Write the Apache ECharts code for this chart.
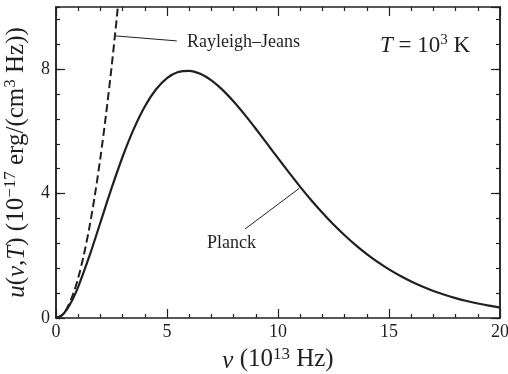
<!DOCTYPE html>
<html>
<head>
<meta charset="utf-8">
<script src="https://cdn.jsdelivr.net/npm/echarts@6/dist/echarts.min.js"></script>
<style>
  html, body { margin: 0; padding: 0; background: #fff; }
  #chart { width: 508px; height: 374px; }
</style>
</head>
<body>
<div id="chart"></div>
<script>
// frequency in 10^13 Hz, energy density in 10^-17 erg/(cm^3 Hz)
const planckNu = [0, 0.25, 0.5, 0.75, 1, 1.5, 2, 2.5, 3, 3.5, 4, 4.5, 5, 5.5, 6, 6.5, 7, 7.5, 8, 8.5, 9, 9.5,
  10, 10.5, 11, 11.5, 12, 12.5, 13, 13.5, 14, 14.5, 15, 15.5, 16, 16.5, 17, 17.5, 18, 18.5, 19, 19.5, 20];
const planckU = [0, 0.076, 0.285, 0.602, 1.004, 1.979, 3.070, 4.165, 5.185, 6.074, 6.801, 7.348, 7.716, 7.910,
  7.949, 7.851, 7.639, 7.336, 6.962, 6.539, 6.084, 5.613, 5.139, 4.672, 4.218, 3.788, 3.384, 3.007, 2.660,
  2.342, 2.054, 1.795, 1.563, 1.357, 1.174, 1.013, 0.871, 0.748, 0.640, 0.547, 0.466, 0.396, 0.336];

const rjNu = [0, 0.25, 0.5, 0.75, 1, 1.25, 1.5, 1.75, 2, 2.25, 2.5, 2.75, 3];
const rjU = [0, 0.081, 0.322, 0.725, 1.288, 2.013, 2.898, 3.945, 5.152, 6.521, 8.05, 9.741, 11.59];

const xTicks = [0, 5, 10, 15, 20];
const yTicks = [0, 4, 8];

// leader lines for the labels, in data units
const rjLeader = [[2.69, 9.07], [5.44, 8.91]];
const planckLeader = [[8.51, 2.86], [10.96, 4.17]];

const ink = '#231f20';
const serif = '"Liberation Serif", "DejaVu Serif", serif';

const chart = echarts.init(document.getElementById('chart'));

const nameRich = {
  i: { fontStyle: 'italic', fontFamily: serif, fontSize: 25, color: ink, lineHeight: 28, verticalAlign: 'bottom' },
  sup: { fontFamily: serif, fontSize: 17, color: ink, lineHeight: 28, verticalAlign: 'top' }
};

const baseX = {
  type: 'value', min: xTicks[0], max: xTicks[xTicks.length - 1], interval: 5,
  splitLine: { show: false },
  axisLine: { show: true, onZero: false, lineStyle: { color: ink, width: 1.5 } },
  axisTick: { inside: true, length: 9, lineStyle: { color: ink, width: 1.2 } },
  minorTick: { show: true, splitNumber: 5, length: 4, lineStyle: { color: ink, width: 1.2 } }
};

function yAxisDef(pos, interval, len, labels) {
  return {
    type: 'value', position: pos, min: 0, max: 10, interval: interval,
    splitLine: { show: false },
    axisLine: { show: true, onZero: false, lineStyle: { color: ink, width: 1.5 } },
    axisTick: { inside: true, length: len, lineStyle: { color: ink, width: 1.2 } },
    axisLabel: labels ? {
      show: true, showMaxLabel: false, color: ink, fontFamily: serif, fontSize: 18, margin: 6,
      formatter: v => (yTicks.indexOf(v) >= 0 ? String(v) : '')
    } : { show: false }
  };
}

const yLeft = yAxisDef('left', 4, 9, true);
yLeft.name = '{i|u}({i|ν},{i|T}) (10{sup|−17} erg/(cm{sup|3} Hz))';
yLeft.nameLocation = 'middle';
yLeft.nameRotate = 90;
yLeft.nameGap = 20;
yLeft.nameTextStyle = {
  color: ink, fontFamily: serif, fontSize: 25, lineHeight: 28, verticalAlign: 'bottom', rich: nameRich
};

chart.setOption({
  backgroundColor: '#fff',
  animation: false,
  grid: { left: 56, right: 8, top: 7, bottom: 56, containLabel: false, outerBoundsMode: 'none' },
  xAxis: [
    Object.assign({}, baseX, {
      position: 'bottom',
      axisLabel: { color: ink, fontFamily: serif, fontSize: 18, margin: 5 },
      name: '{i|ν} (10{sup|13} Hz)',
      nameLocation: 'middle',
      nameGap: 23,
      nameTextStyle: { color: ink, fontFamily: serif, fontSize: 25, lineHeight: 28, rich: nameRich }
    }),
    Object.assign({}, baseX, { position: 'top', axisLabel: { show: false } })
  ],
  yAxis: [
    yLeft,
    yAxisDef('left', 0.8, 4, false),
    yAxisDef('right', 4, 9, false),
    yAxisDef('right', 0.8, 4, false)
  ],
  series: [
    {
      name: 'Planck', type: 'line', xAxisIndex: 0, yAxisIndex: 0,
      data: planckNu.map((v, i) => [v, planckU[i]]),
      showSymbol: false, smooth: 0.3,
      lineStyle: { color: ink, width: 2.2 },
      markLine: {
        silent: true, symbol: 'none', label: { show: false },
        lineStyle: { color: ink, width: 1, type: 'solid' },
        data: [
          [{ coord: rjLeader[0] }, { coord: rjLeader[1] }],
          [{ coord: planckLeader[0] }, { coord: planckLeader[1] }]
        ]
      }
    },
    {
      name: 'Rayleigh–Jeans', type: 'line', xAxisIndex: 0, yAxisIndex: 0,
      data: rjNu.map((v, i) => [v, rjU[i]]),
      showSymbol: false, smooth: 0.3, clip: true,
      lineStyle: { color: ink, width: 2, type: [8, 4] }
    }
  ],
  graphic: [
    {
      type: 'text', x: 187, y: 42,
      style: { text: 'Rayleigh–Jeans', font: '18px ' + serif, fill: ink, verticalAlign: 'middle' }
    },
    {
      type: 'text', x: 207, y: 243,
      style: { text: 'Planck', font: '18px ' + serif, fill: ink, verticalAlign: 'middle' }
    },
    {
      type: 'text', x: 380, y: 45,
      style: {
        text: '{i|T}{n| = 10}{sup|3}{n| K}', verticalAlign: 'middle', fill: ink,
        rich: {
          i: { fontStyle: 'italic', fontFamily: serif, fontSize: 23, fill: ink, lineHeight: 25, verticalAlign: 'bottom' },
          n: { fontFamily: serif, fontSize: 23, fill: ink, lineHeight: 25, verticalAlign: 'bottom' },
          sup: { fontFamily: serif, fontSize: 15, fill: ink, lineHeight: 25, verticalAlign: 'top' }
        }
      }
    }
  ]
});
</script>
</body>
</html>
